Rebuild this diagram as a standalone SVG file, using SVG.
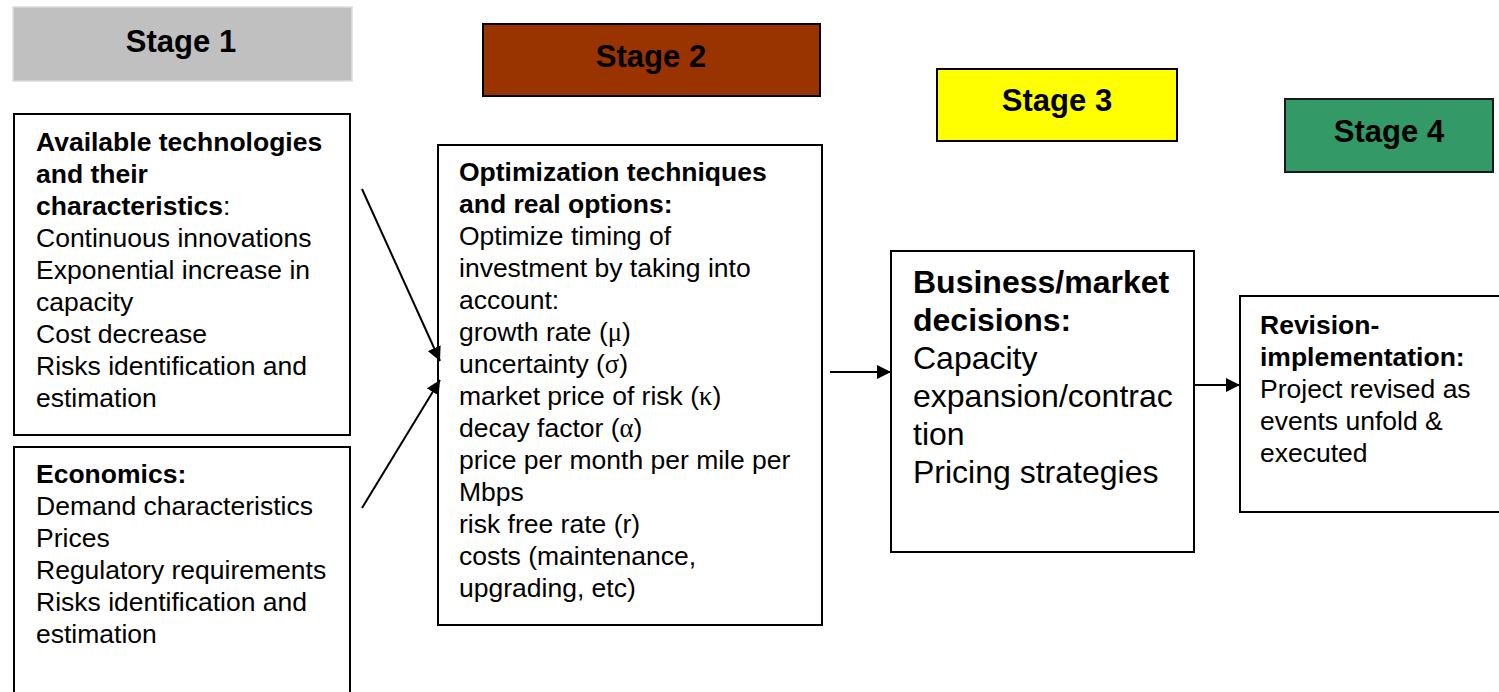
<svg xmlns="http://www.w3.org/2000/svg" width="1499" height="692" viewBox="0 0 1499 692">
  <style>
    .box { fill: #ffffff; stroke: #000000; stroke-width: 2; }
    .stage-label { font-family: "Liberation Sans", Arial, sans-serif; font-weight: bold; font-size: 31px; fill: #000000; text-anchor: middle; }
    .body { font-family: "Liberation Sans", Arial, sans-serif; font-size: 26.5px; fill: #000000; }
    .big { font-family: "Liberation Sans", Arial, sans-serif; font-size: 32px; fill: #000000; }
    .b { font-weight: bold; }
    .greek { font-family: "Liberation Serif", "Times New Roman", serif; }
    .conn { stroke: #000000; stroke-width: 2; fill: none; marker-end: url(#arrow); }
  </style>
  <defs>
    <marker id="arrow" viewBox="0 0 10 10" refX="10" refY="5" markerWidth="7" markerHeight="7" markerUnits="strokeWidth" orient="auto">
      <path d="M0,0 L10,5 L0,10 Z" fill="#000000"/>
    </marker>
  </defs>

  <rect width="1499" height="692" fill="#ffffff"/>

  <!-- Stage headers -->
  <g id="stage1">
    <rect x="13" y="7" width="339" height="74" fill="#c0c0c0" stroke="#dcdcdc" stroke-width="1.5"/>
    <text class="stage-label" x="181" y="52">Stage 1</text>
  </g>
  <g id="stage2">
    <rect x="483" y="24" width="337" height="72" fill="#993300" stroke="#000000" stroke-width="2"/>
    <text class="stage-label" x="651" y="67">Stage 2</text>
  </g>
  <g id="stage3">
    <rect x="937" y="69" width="240" height="72" fill="#ffff00" stroke="#000000" stroke-width="2"/>
    <text class="stage-label" x="1057" y="111">Stage 3</text>
  </g>
  <g id="stage4">
    <rect x="1285" y="99" width="208" height="73" fill="#339966" stroke="#1a1a1a" stroke-width="2"/>
    <text class="stage-label" x="1389" y="142">Stage 4</text>
  </g>

  <!-- Stage 1 inputs -->
  <g id="technologies">
    <rect class="box" x="14" y="114" width="336" height="321"/>
    <text class="body">
      <tspan class="b" x="36" y="151">Available technologies</tspan>
      <tspan class="b" x="36" y="183">and their</tspan>
      <tspan x="36" y="215"><tspan class="b">characteristics</tspan>:</tspan>
      <tspan x="36" y="247">Continuous innovations</tspan>
      <tspan x="36" y="279">Exponential increase in</tspan>
      <tspan x="36" y="311">capacity</tspan>
      <tspan x="36" y="343">Cost decrease</tspan>
      <tspan x="36" y="375">Risks identification and</tspan>
      <tspan x="36" y="407">estimation</tspan>
    </text>
  </g>
  <g id="economics">
    <rect class="box" x="14" y="447" width="336" height="260"/>
    <text class="body">
      <tspan class="b" x="36" y="483">Economics:</tspan>
      <tspan x="36" y="515">Demand characteristics</tspan>
      <tspan x="36" y="547">Prices</tspan>
      <tspan x="36" y="579">Regulatory requirements</tspan>
      <tspan x="36" y="611">Risks identification and</tspan>
      <tspan x="36" y="643">estimation</tspan>
    </text>
  </g>

  <!-- Stage 2 -->
  <g id="optimization">
    <rect class="box" x="438" y="145" width="384" height="480"/>
    <text class="body">
      <tspan class="b" x="459" y="181">Optimization techniques</tspan>
      <tspan class="b" x="459" y="213">and real options:</tspan>
      <tspan x="459" y="245">Optimize timing of</tspan>
      <tspan x="459" y="277">investment by taking into</tspan>
      <tspan x="459" y="309">account:</tspan>
      <tspan x="459" y="341">growth rate (<tspan class="greek">μ</tspan>)</tspan>
      <tspan x="459" y="373">uncertainty (<tspan class="greek">σ</tspan>)</tspan>
      <tspan x="459" y="405">market price of risk (<tspan class="greek">κ</tspan>)</tspan>
      <tspan x="459" y="437">decay factor (<tspan class="greek">α</tspan>)</tspan>
      <tspan x="459" y="469">price per month per mile per</tspan>
      <tspan x="459" y="501">Mbps</tspan>
      <tspan x="459" y="533">risk free rate (r)</tspan>
      <tspan x="459" y="565">costs (maintenance,</tspan>
      <tspan x="459" y="597">upgrading, etc)</tspan>
    </text>
  </g>

  <!-- Stage 3 -->
  <g id="decisions">
    <rect class="box" x="891" y="251" width="303" height="301"/>
    <text class="big">
      <tspan class="b" x="913" y="293">Business/market</tspan>
      <tspan class="b" x="913" y="331">decisions:</tspan>
      <tspan x="913" y="369">Capacity</tspan>
      <tspan x="913" y="407">expansion/contrac</tspan>
      <tspan x="913" y="445">tion</tspan>
      <tspan x="913" y="483">Pricing strategies</tspan>
    </text>
  </g>

  <!-- Stage 4 -->
  <g id="revision">
    <rect class="box" x="1240" y="296" width="280" height="216"/>
    <text class="body">
      <tspan class="b" x="1260" y="334">Revision-</tspan>
      <tspan class="b" x="1260" y="366">implementation:</tspan>
      <tspan x="1260" y="398">Project revised as</tspan>
      <tspan x="1260" y="430">events unfold &amp;</tspan>
      <tspan x="1260" y="462">executed</tspan>
    </text>
  </g>

  <!-- Connectors -->
  <g id="connectors">
    <line class="conn" x1="362" y1="189" x2="440" y2="361"/>
    <line class="conn" x1="362" y1="508" x2="440" y2="380"/>
    <line class="conn" x1="830" y1="372" x2="891" y2="372"/>
    <line class="conn" x1="1194" y1="385" x2="1240" y2="385"/>
  </g>
</svg>
